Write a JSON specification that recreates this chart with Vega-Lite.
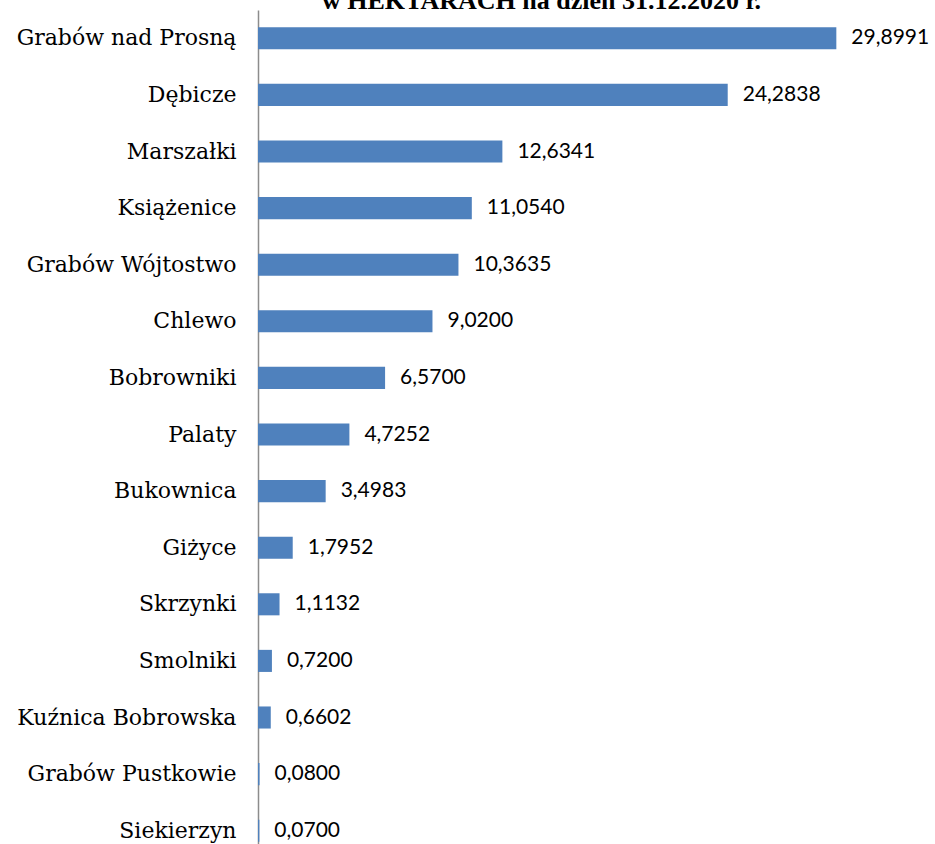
{
  "$schema": "https://vega.github.io/schema/vega-lite/v6.json",
  "autosize": "none",
  "padding": {"left": 258, "top": 10, "right": 0, "bottom": 0},
  "width": 677,
  "height": 849,
  "background": "white",
  "title": {
    "text": "w HEKTARACH na dzień 31.12.2020 r.",
    "font": "Liberation Serif",
    "fontSize": 26,
    "fontWeight": "bold",
    "color": "black",
    "anchor": "middle",
    "baseline": "alphabetic",
    "offset": 0,
    "dy": 25,
    "dx": -55
  },
  "data": {
    "values": [
      {"solectwo": "Grabów nad Prosną", "ha": 29.8991, "label": "29,8991"},
      {"solectwo": "Dębicze", "ha": 24.2838, "label": "24,2838"},
      {"solectwo": "Marszałki", "ha": 12.6341, "label": "12,6341"},
      {"solectwo": "Książenice", "ha": 11.054, "label": "11,0540"},
      {"solectwo": "Grabów Wójtostwo", "ha": 10.3635, "label": "10,3635"},
      {"solectwo": "Chlewo", "ha": 9.02, "label": "9,0200"},
      {"solectwo": "Bobrowniki", "ha": 6.57, "label": "6,5700"},
      {"solectwo": "Palaty", "ha": 4.7252, "label": "4,7252"},
      {"solectwo": "Bukownica", "ha": 3.4983, "label": "3,4983"},
      {"solectwo": "Giżyce", "ha": 1.7952, "label": "1,7952"},
      {"solectwo": "Skrzynki", "ha": 1.1132, "label": "1,1132"},
      {"solectwo": "Smolniki", "ha": 0.72, "label": "0,7200"},
      {"solectwo": "Kuźnica Bobrowska", "ha": 0.6602, "label": "0,6602"},
      {"solectwo": "Grabów Pustkowie", "ha": 0.08, "label": "0,0800"},
      {"solectwo": "Siekierzyn", "ha": 0.07, "label": "0,0700"}
    ]
  },
  "encoding": {
    "y": {
      "field": "solectwo",
      "type": "nominal",
      "sort": null,
      "scale": {"paddingInner": 0.61, "paddingOuter": 0.305},
      "axis": {
        "title": null,
        "ticks": false,
        "domainColor": "#8c8c8c",
        "domainWidth": 1.5,
        "labelFont": "DejaVu Serif",
        "labelFontSize": 22,
        "labelColor": "black",
        "labelPadding": 22,
        "labelLimit": 300
      }
    },
    "x": {
      "field": "ha",
      "type": "quantitative",
      "scale": {"domain": [0, 35], "nice": false, "zero": true},
      "axis": null
    }
  },
  "layer": [
    {"mark": {"type": "bar", "color": "#4f81bd"}},
    {
      "mark": {"type": "text", "align": "left", "dx": 15, "font": "Lato", "fontSize": 21, "color": "black"},
      "encoding": {"text": {"field": "label"}}
    }
  ],
  "config": {"view": {"stroke": null}}
}
